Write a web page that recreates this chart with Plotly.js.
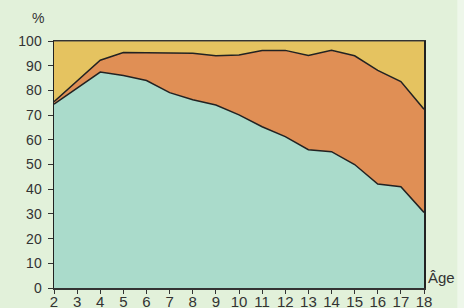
<!DOCTYPE html>
<html>
<head>
<meta charset="utf-8">
<script src="https://cdn.plot.ly/plotly-3.0.1.min.js"></script>
<style>html,body{margin:0;padding:0;background:#e2f1da;}#chart{width:464px;height:308px;}</style>
</head>
<body>
<div id="chart"></div>
<script>
const ages = [2,3,4,5,6,7,8,9,10,11,12,13,14,15,16,17,18];
const greenShare  = [74.4,81,87.4,86,84,79.1,76.2,74.1,70.1,65.3,61.3,56,55.2,50,42.1,41,30.6];
const orangeShare = [1.0,3.0,4.8,9.3,11.3,16.1,18.8,19.9,24.2,30.9,34.9,38.1,41.0,44.0,46.0,42.6,41.8];
const yellowShare = [24.6,16,7.8,4.7,4.7,4.8,5,6,5.7,3.8,3.8,5.9,3.8,6,11.9,16.4,27.6];
const yTicks = [0,10,20,30,40,50,60,70,80,90,100];

const FONT = '"Liberation Sans", Arial, sans-serif';
const traces = [
  {x: ages, y: greenShare, type:'scatter', mode:'lines', stackgroup:'a', fillcolor:'#aadbcb', line:{color:'#222', width:1.5}, hoverinfo:'skip'},
  {x: ages, y: orangeShare, type:'scatter', mode:'lines', stackgroup:'a', fillcolor:'#e08f55', line:{color:'#222', width:1.5}, hoverinfo:'skip'},
  {x: ages, y: yellowShare, type:'scatter', mode:'lines', stackgroup:'a', fillcolor:'#e5c360', line:{color:'#444', width:1}, hoverinfo:'skip'}
];
const layout = {
  width:464, height:308,
  margin:{l:54, r:39.5, t:41.3, b:20.3, pad:0},
  paper_bgcolor:'#e2f1da', plot_bgcolor:'#e2f1da',
  showlegend:false,
  font:{family:FONT, size:14, color:'#333'},
  xaxis:{range:[2,18], tickvals:ages, ticks:'outside', ticklen:4, tickcolor:'#333', showline:true, linecolor:'#333', linewidth:1.5, mirror:true, showgrid:false, zeroline:false, fixedrange:true, tickfont:{family:FONT, size:15}, ticklabelstandoff:-5},
  yaxis:{range:[0,100], tickvals:yTicks, ticks:'outside', ticklen:5, tickcolor:'#333', showline:true, linecolor:'#222', linewidth:1.5, mirror:true, showgrid:false, zeroline:false, fixedrange:true, tickfont:{family:FONT, size:14}, ticklabelstandoff:3},
  shapes:[{type:'rect', xref:'paper', yref:'paper', x0:1.09, x1:1.2, y0:-0.2, y1:1.3, fillcolor:'#eef7ea', line:{width:0}, layer:'below'}],
  annotations:[
    {text:'%', xref:'paper', yref:'paper', x:-0.043, y:1.0925, xanchor:'center', yanchor:'middle', showarrow:false, font:{family:FONT, size:14, color:'#333'}},
    {text:'Âge', xref:'paper', yref:'paper', x:1.005, y:0.0, xanchor:'left', yanchor:'bottom', showarrow:false, font:{family:FONT, size:15, color:'#333'}}
  ]
};
Plotly.newPlot('chart', traces, layout, {staticPlot:true, displayModeBar:false});
</script>
</body>
</html>
